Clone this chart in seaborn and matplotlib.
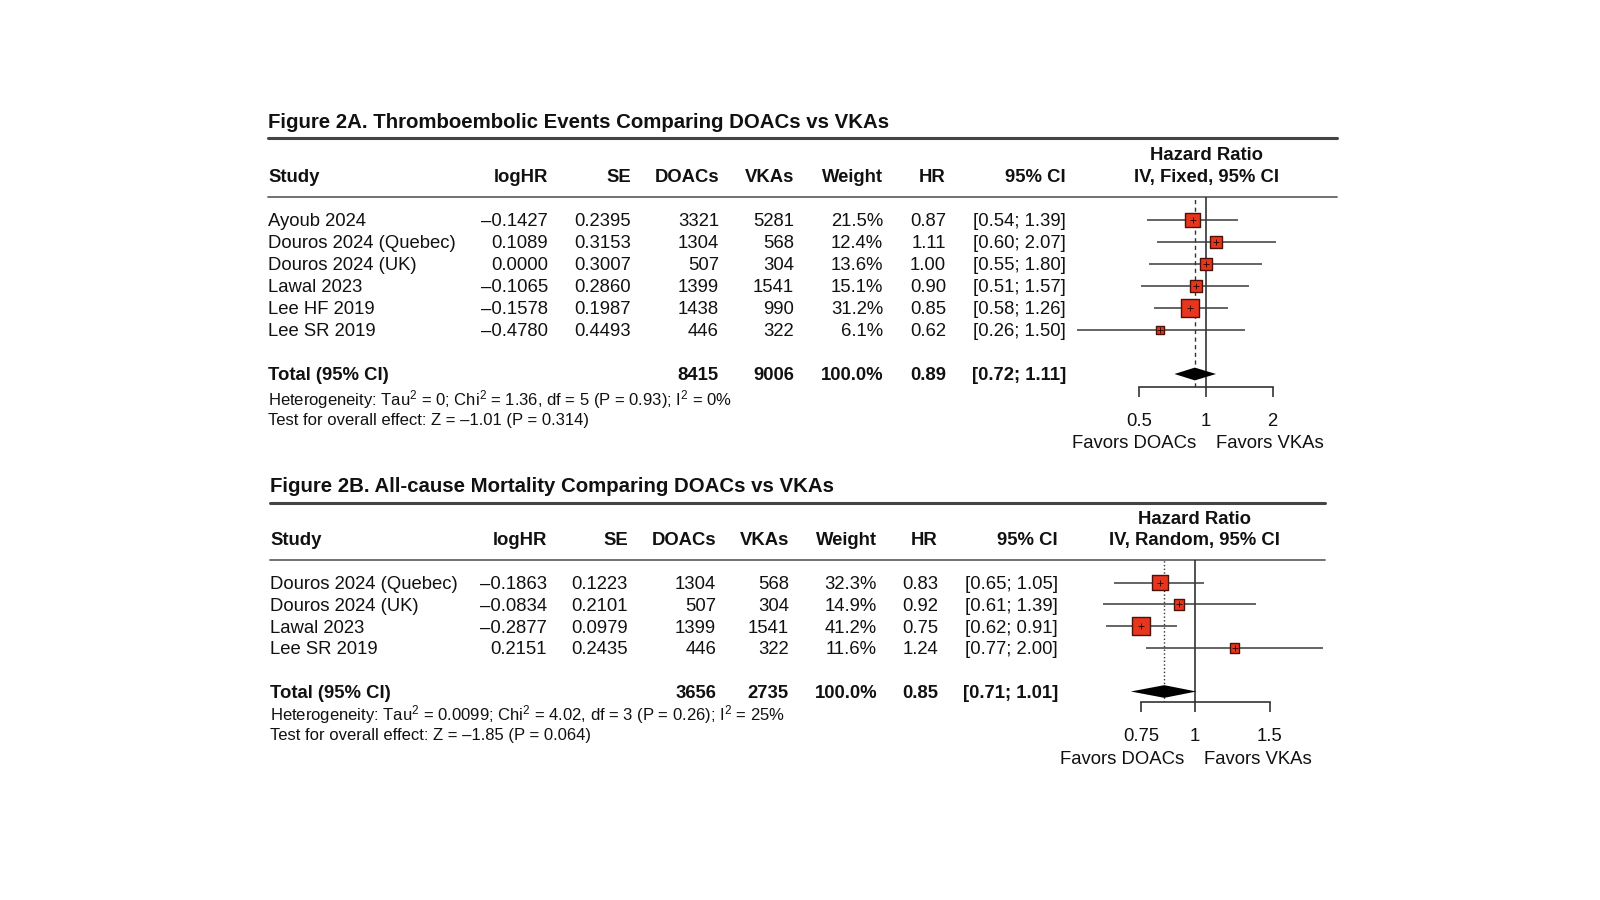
import numpy as np
import pandas as pd
import matplotlib
matplotlib.use("Agg")
import matplotlib.pyplot as plt
from matplotlib.ticker import NullLocator
import seaborn as sns

# Figure 2A: thromboembolic events (fixed effect)
studies_a = ["Ayoub 2024", "Douros 2024 (Quebec)", "Douros 2024 (UK)",
             "Lawal 2023", "Lee HF 2019", "Lee SR 2019"]
loghr_a = [-0.1427, 0.1089, 0.0000, -0.1065, -0.1578, -0.4780]
se_a = [0.2395, 0.3153, 0.3007, 0.2860, 0.1987, 0.4493]
doacs_a = [3321, 1304, 507, 1399, 1438, 446]
vkas_a = [5281, 568, 304, 1541, 990, 322]
weight_a = [21.5, 12.4, 13.6, 15.1, 31.2, 6.1]
hr_a = [0.87, 1.11, 1.00, 0.90, 0.85, 0.62]
lo_a = [0.54, 0.60, 0.55, 0.51, 0.58, 0.26]
hi_a = [1.39, 2.07, 1.80, 1.57, 1.26, 1.50]
total_n_a = [8415, 9006]
total_hr_a = [0.89, 0.72, 1.11]
het_a = "Heterogeneity: Tau$^2$ = 0; Chi$^2$ = 1.36, df = 5 (P = 0.93); I$^2$ = 0%"
test_a = "Test for overall effect: Z = \u20131.01 (P = 0.314)"
ticks_a = [0.5, 1, 2]
ticklabels_a = ["0.5", "1", "2"]

# Figure 2B: all-cause mortality (random effects)
studies_b = ["Douros 2024 (Quebec)", "Douros 2024 (UK)", "Lawal 2023", "Lee SR 2019"]
loghr_b = [-0.1863, -0.0834, -0.2877, 0.2151]
se_b = [0.1223, 0.2101, 0.0979, 0.2435]
doacs_b = [1304, 507, 1399, 446]
vkas_b = [568, 304, 1541, 322]
weight_b = [32.3, 14.9, 41.2, 11.6]
hr_b = [0.83, 0.92, 0.75, 1.24]
lo_b = [0.65, 0.61, 0.62, 0.77]
hi_b = [1.05, 1.39, 0.91, 2.00]
total_n_b = [3656, 2735]
total_hr_b = [0.85, 0.71, 1.01]
het_b = "Heterogeneity: Tau$^2$ = 0.0099; Chi$^2$ = 4.02, df = 3 (P = 0.26); I$^2$ = 25%"
test_b = "Test for overall effect: Z = \u20131.85 (P = 0.064)"
ticks_b = [0.75, 1, 1.5]
ticklabels_b = ["0.75", "1", "1.5"]

sns.set_theme(style="white")
plt.rcParams["font.family"] = ["Liberation Sans", "DejaVu Sans"]
plt.rcParams["mathtext.fontset"] = "custom"
plt.rcParams["mathtext.rm"] = "Liberation Sans"
plt.rcParams["mathtext.it"] = "Liberation Sans:italic"
plt.rcParams["mathtext.bf"] = "Liberation Sans:bold"
plt.rcParams["mathtext.default"] = "regular"

W, H = 1600, 900
TXT = "#111111"
FS = 13.3
DY = 2  # text sits a little lower than its centre box

fig = plt.figure(figsize=(16, 9), dpi=100)
fig.patch.set_facecolor("white")
bg = fig.add_axes([0, 0, 1, 1])
bg.set_xlim(0, W)
bg.set_ylim(H, 0)
bg.axis("off")


def fmt4(v):
    return f"{v:.4f}".replace("-", "\u2013")


def put(x, y, s, ha="left", bold=False, size=FS):
    bg.text(x, y + DY, s, fontsize=size, fontweight="bold" if bold else "normal",
            ha=ha, va="center", color=TXT)


def panel(title, method, studies, loghr, se, doacs, vkas, weight, hr, lo, hi,
          tot_n, tot_hr, het, test, ticks, ticklabels, lay):
    left, right = lay["left"], lay["right"]
    row0, step = lay["row0"], lay["step"]
    cols = lay["cols"]
    n = len(studies)

    # table text
    put(left, lay["y_title"], title, bold=True, size=14.7)
    bg.plot([left, right], [lay["y_rule1"]] * 2, color="#444444", lw=2.2)
    put(lay["one_px"], lay["y_hr"], "Hazard Ratio", ha="center", bold=True)
    put(lay["one_px"], lay["y_head"], method, ha="center", bold=True)
    put(left, lay["y_head"], "Study", bold=True)
    headers = ["logHR", "SE", "DOACs", "VKAs", "Weight", "HR", "95% CI"]
    for x, h in zip(cols, headers):
        put(x, lay["y_head"], h, ha="right", bold=True)
    bg.plot([left, right], [lay["y_rule2"]] * 2, color="#666666", lw=1.3)

    for i in range(n):
        y = row0 + step * i
        cells = [fmt4(loghr[i]), f"{se[i]:.4f}", str(doacs[i]), str(vkas[i]),
                 f"{weight[i]:.1f}%", f"{hr[i]:.2f}",
                 f"[{lo[i]:.2f}; {hi[i]:.2f}]"]
        put(left, y, studies[i])
        for x, c in zip(cols, cells):
            put(x, y, c, ha="right")

    ty = n + 1
    yt = row0 + step * ty
    tcells = ["", "", str(tot_n[0]), str(tot_n[1]), "100.0%",
              f"{tot_hr[0]:.2f}", f"[{tot_hr[1]:.2f}; {tot_hr[2]:.2f}]"]
    put(left, yt, "Total (95% CI)", bold=True)
    for x, c in zip(cols, tcells):
        put(x, yt, c, ha="right", bold=True)
    put(left, lay["y_het"], het, size=12)
    put(left, lay["y_test"], test, size=12)

    # forest axes, placed so that the log scale lines up with the table
    x0, x1 = lay["xlim"]
    ax_left = lay["one_px"] + lay["ppl"] * np.log(x0)
    ax_w = lay["ppl"] * np.log(x1 / x0)
    y_top, y_axis = lay["y_rule2"], lay["y_axis"]
    ax = fig.add_axes([ax_left / W, 1 - y_axis / H, ax_w / W, (y_axis - y_top) / H])
    ax.patch.set_alpha(0)
    ax.set_xscale("log")

    df = pd.DataFrame({"hr": hr, "lo": lo, "hi": hi, "weight": weight,
                       "row": np.arange(n)})
    ax.hlines(df["row"], df["lo"], df["hi"], color="#3a3a3a", lw=1.1, zorder=2)
    k = lay["k"]
    sns.scatterplot(data=df, x="hr", y="row", size="weight",
                    sizes=(k * min(weight), k * max(weight)), marker="s",
                    color="#e8361e", edgecolor="#4a1208", linewidth=1,
                    legend=False, ax=ax, zorder=3)
    ax.scatter(df["hr"], df["row"], marker="+", s=16, color="#3a0a05",
               lw=0.7, zorder=4)

    h = 0.29
    ax.fill([tot_hr[1], tot_hr[0], tot_hr[2], tot_hr[0]],
            [ty, ty - h, ty, ty + h], color="black", lw=0, zorder=3)
    ax.axvline(1, color="#333333", lw=1.2, zorder=1)
    ax.axvline(tot_hr[0], color="#333333", lw=1.0, ls=lay["ls"], zorder=1)

    ax.set_xlim(x0, x1)
    ax.set_ylim((y_axis - row0) / step, (y_top - row0) / step)
    for s in ["top", "left", "right"]:
        ax.spines[s].set_visible(False)
    ax.spines["bottom"].set_bounds(ticks[0], ticks[-1])
    ax.spines["bottom"].set_color("#333333")
    ax.spines["bottom"].set_linewidth(1.2)
    ax.set_xticks(ticks)
    ax.set_xticklabels(ticklabels)
    ax.xaxis.set_minor_locator(NullLocator())
    ax.tick_params(axis="x", direction="out", length=7.2, width=1.2,
                   color="#333333", pad=11.5, labelsize=FS, labelcolor=TXT,
                   bottom=True)
    ax.set_yticks([])
    ax.set_xlabel("")
    ax.set_ylabel("")

    put(lay["one_px"] - 10, lay["y_fav"], "Favors DOACs", ha="right")
    put(lay["one_px"] + 10, lay["y_fav"], "Favors VKAs")


lay_a = dict(left=268, right=1337, y_title=120, y_rule1=138, y_hr=153,
             y_head=175.5, y_rule2=197, row0=220, step=22, y_het=398,
             y_test=418, cols=[548, 631, 719, 794, 883, 946, 1066],
             one_px=1206, ppl=96, xlim=(0.22, 3.6), y_axis=387, y_fav=442,
             k=5.31, ls=(0, (3, 2.5)))
lay_b = dict(left=270, right=1325, y_title=485, y_rule1=503, y_hr=517,
             y_head=538.5, y_rule2=560, row0=582.5, step=21.8, y_het=713,
             y_test=733.5, cols=[547, 628, 716, 789, 877, 938, 1058],
             one_px=1194.5, ppl=186, xlim=(0.55, 2.017), y_axis=702,
             y_fav=757, k=4.06, ls=":")

panel("Figure 2A. Thromboembolic Events Comparing DOACs vs VKAs",
      "IV, Fixed, 95% CI", studies_a, loghr_a, se_a, doacs_a, vkas_a,
      weight_a, hr_a, lo_a, hi_a, total_n_a, total_hr_a, het_a, test_a,
      ticks_a, ticklabels_a, lay_a)
panel("Figure 2B. All-cause Mortality Comparing DOACs vs VKAs",
      "IV, Random, 95% CI", studies_b, loghr_b, se_b, doacs_b, vkas_b,
      weight_b, hr_b, lo_b, hi_b, total_n_b, total_hr_b, het_b, test_b,
      ticks_b, ticklabels_b, lay_b)

fig.savefig("out.png", dpi=100, facecolor="white")
